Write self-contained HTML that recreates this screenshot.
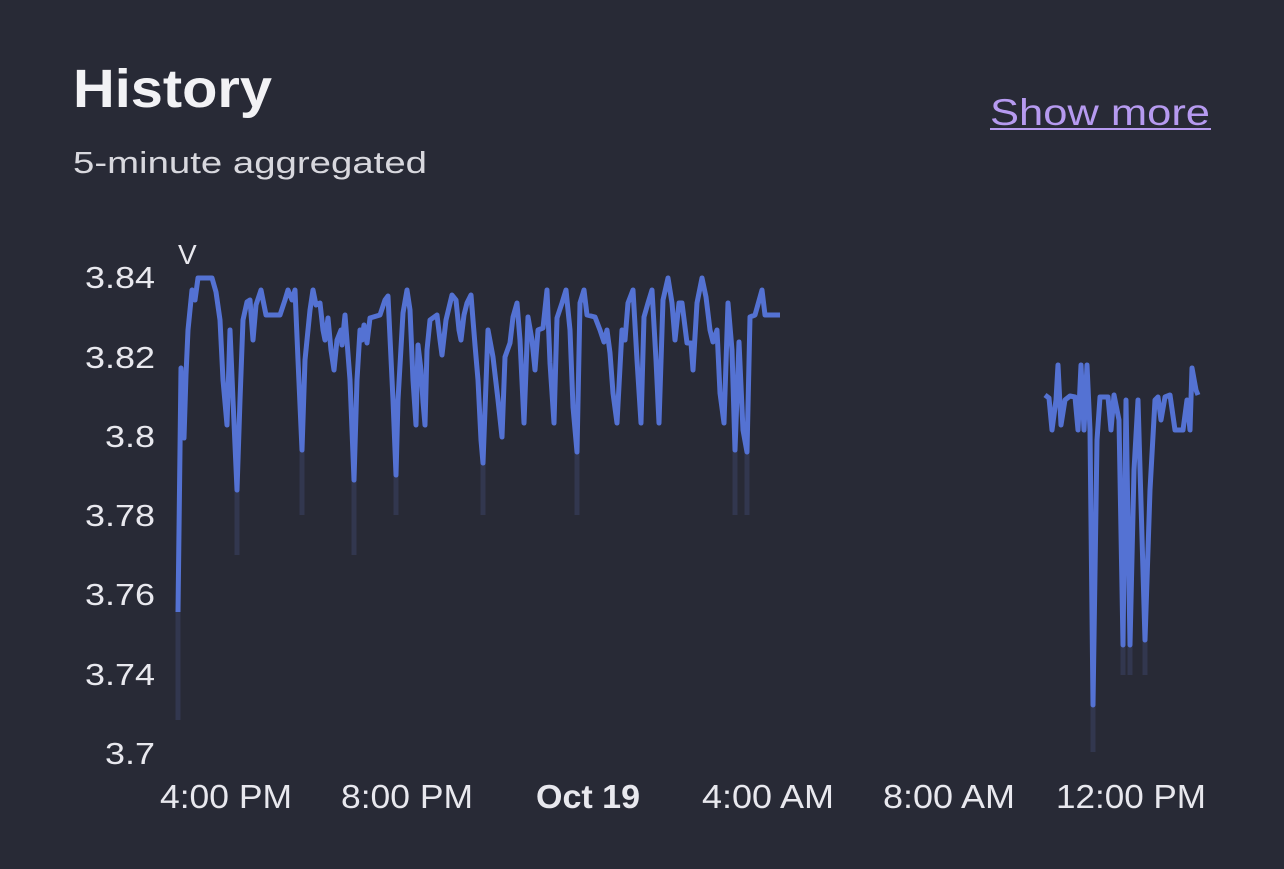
<!DOCTYPE html>
<html><head><meta charset="utf-8"><style>
html,body{margin:0;padding:0;background:#282a36;width:1284px;height:869px;overflow:hidden;font-family:"Liberation Sans",sans-serif;color:#e8e8ee}
</style></head><body>
<svg width="1284" height="869" xmlns="http://www.w3.org/2000/svg" style="position:absolute;left:0;top:0">
<rect width="1284" height="869" fill="#282a36"/>
<text x="73" y="107" font-size="54" font-weight="bold" fill="#f2f2f5" textLength="199" lengthAdjust="spacingAndGlyphs" font-family="Liberation Sans,sans-serif">History</text>
<text x="73" y="173" font-size="31" fill="#d8d8de" textLength="354" lengthAdjust="spacingAndGlyphs" font-family="Liberation Sans,sans-serif">5-minute aggregated</text>
<text x="990" y="125" font-size="37" fill="#b69af0" textLength="220" lengthAdjust="spacingAndGlyphs" font-family="Liberation Sans,sans-serif">Show more</text>
<line x1="990" y1="129" x2="1211" y2="129" stroke="#b69af0" stroke-width="2"/>
<g font-size="31" fill="#e8e8ee" text-anchor="end" font-family="Liberation Sans,sans-serif">
<text x="155" y="288" textLength="70" lengthAdjust="spacingAndGlyphs">3.84</text><text x="155" y="368" textLength="70" lengthAdjust="spacingAndGlyphs">3.82</text><text x="155" y="447" textLength="50" lengthAdjust="spacingAndGlyphs">3.8</text>
<text x="155" y="526" textLength="70" lengthAdjust="spacingAndGlyphs">3.78</text><text x="155" y="605" textLength="70" lengthAdjust="spacingAndGlyphs">3.76</text><text x="155" y="685" textLength="70" lengthAdjust="spacingAndGlyphs">3.74</text><text x="155" y="764" textLength="50" lengthAdjust="spacingAndGlyphs">3.7</text>
</g>
<text x="178" y="264" font-size="28" fill="#e8e8ee" font-family="Liberation Sans,sans-serif">V</text>
<g font-size="33" fill="#e8e8ee" font-family="Liberation Sans,sans-serif" lengthAdjust="spacingAndGlyphs">
<text x="160" y="808" textLength="132" lengthAdjust="spacingAndGlyphs">4:00 PM</text><text x="341" y="808" textLength="132" lengthAdjust="spacingAndGlyphs">8:00 PM</text><text x="536" y="808" font-weight="bold" textLength="104" lengthAdjust="spacingAndGlyphs">Oct 19</text>
<text x="702" y="808" textLength="132" lengthAdjust="spacingAndGlyphs">4:00 AM</text><text x="883" y="808" textLength="132" lengthAdjust="spacingAndGlyphs">8:00 AM</text><text x="1056" y="808" textLength="150" lengthAdjust="spacingAndGlyphs">12:00 PM</text>
</g>
<g stroke="#343952" stroke-width="5" opacity="0.9">
<line x1="178" y1="610" x2="178" y2="720"/><line x1="237" y1="480" x2="237" y2="555"/><line x1="302" y1="450" x2="302" y2="515"/>
<line x1="354" y1="480" x2="354" y2="555"/><line x1="396" y1="470" x2="396" y2="515"/><line x1="483" y1="460" x2="483" y2="515"/>
<line x1="577" y1="450" x2="577" y2="515"/><line x1="735" y1="450" x2="735" y2="515"/><line x1="747" y1="450" x2="747" y2="515"/>
<line x1="1093" y1="700" x2="1093" y2="752"/><line x1="1123" y1="640" x2="1123" y2="675"/><line x1="1130" y1="640" x2="1130" y2="675"/><line x1="1145" y1="640" x2="1145" y2="675"/>
</g>
<polyline fill="none" stroke="#5472d3" stroke-width="5" stroke-linejoin="round" points="178,612 181,368 184,438 186,375 188,330 192,290 195,300 198,278 212,278 216,292 220,320 223,380 227,425 230,330 233,400 237,490 240,400 243,320 247,302 250,300 253,340 256,305 261,290 266,315 280,315 285,300 288,290 292,300 295,290 298,360 302,450 305,360 310,310 313,290 316,305 320,303 323,330 325,340 328,318 331,350 334,370 337,340 341,330 342,345 345,315 350,380 354,480 357,380 360,330 362,340 364,325 367,343 370,318 380,315 385,300 388,296 393,400 396,475 398,400 403,313 407,290 410,310 413,380 416,425 418,345 421,370 423,402 425,425 427,350 430,320 437,315 440,340 442,355 446,320 452,295 456,300 459,330 461,340 464,315 467,303 471,295 475,345 478,380 481,440 483,463 488,330 493,357 498,400 502,437 505,357 510,343 513,317 517,303 520,340 524,423 528,317 532,340 535,370 538,330 543,328 547,290 550,363 554,423 557,318 562,303 566,290 570,330 573,407 577,452 580,303 584,290 587,315 595,317 600,330 604,342 607,330 610,353 613,393 617,423 622,330 625,340 628,303 633,290 637,360 641,423 644,317 648,303 652,290 656,360 659,423 663,300 668,278 672,303 675,340 679,303 682,303 687,343 691,343 693,370 697,303 702,278 706,297 710,330 713,342 717,330 720,393 724,423 728,303 732,350 735,450 739,342 743,430 747,452 750,317 755,315 762,290 765,315 780,315"/>
<polyline fill="none" stroke="#5472d3" stroke-width="5" stroke-linejoin="round" points="1045,395 1049,398 1052,430 1056,400 1058,365 1061,425 1065,400 1070,396 1075,397 1078,430 1081,365 1084,430 1087,365 1090,430 1093,705 1097,440 1100,397 1108,397 1111,430 1114,395 1119,420 1123,645 1126,400 1130,645 1134,470 1138,400 1145,640 1150,490 1155,400 1158,397 1161,420 1165,397 1170,395 1175,430 1183,430 1187,400 1190,430 1192,368 1196,390 1198,395"/>
</svg>
</body></html>
